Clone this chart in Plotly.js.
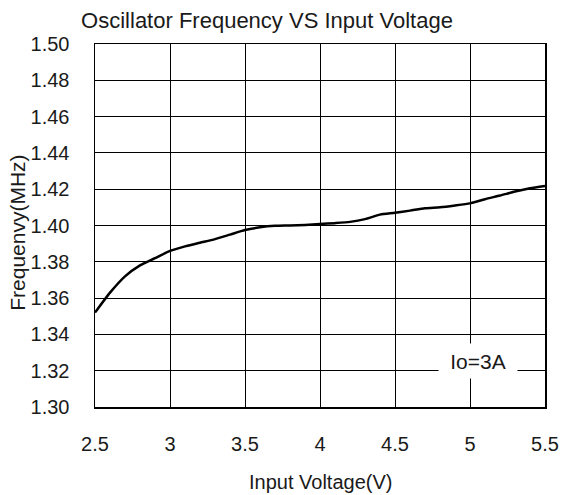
<!DOCTYPE html>
<html>
<head>
<meta charset="utf-8">
<script src="https://cdn.plot.ly/plotly-3.0.1.min.js"></script>
<style>html,body{margin:0;padding:0;background:#fff;}#chart{width:563px;height:495px;}</style>
</head>
<body>
<div id="chart"></div>
<script>
const voltage = [2.5, 2.6, 2.7, 2.8, 2.9, 3.0, 3.1, 3.2, 3.3, 3.4, 3.5, 3.6, 3.7, 3.8, 3.9, 4.0, 4.1, 4.2, 4.3, 4.4, 4.5, 4.6, 4.7, 4.8, 4.9, 5.0, 5.1, 5.2, 5.3, 5.4, 5.5];
const frequency = [1.352, 1.363, 1.372, 1.378, 1.382, 1.386, 1.3885, 1.3905, 1.3925, 1.395, 1.3975, 1.399, 1.3998, 1.4, 1.4003, 1.4008, 1.4013, 1.402, 1.4035, 1.406, 1.407, 1.4082, 1.4095, 1.41, 1.411, 1.4122, 1.4145, 1.4165, 1.4187, 1.4205, 1.4218];
const xTicks = [2.5, 3, 3.5, 4, 4.5, 5, 5.5];
const xTickText = ['2.5', '3', '3.5', '4', '4.5', '5', '5.5'];
const yTicks = [1.30, 1.32, 1.34, 1.36, 1.38, 1.40, 1.42, 1.44, 1.46, 1.48, 1.50];
const yTickText = ['1.30', '1.32', '1.34', '1.36', '1.38', '1.40', '1.42', '1.44', '1.46', '1.48', '1.50'];
const chartTitle = 'Oscillator Frequency VS Input Voltage';
const xTitle = 'Input Voltage(V)';
const yTitle = 'Frequenvy(MHz)';
const noteText = 'Io=3A';

const FONT = 'Liberation Sans, Arial, sans-serif';
const trace = {
  x: voltage, y: frequency, type: 'scatter', mode: 'lines',
  line: {color: '#000', width: 2.5, shape: 'spline', smoothing: 0.6},
  hoverinfo: 'skip', showlegend: false
};
const layout = {
  width: 563, height: 495,
  margin: {l: 95, r: 18, t: 44, b: 88},
  paper_bgcolor: '#fff', plot_bgcolor: '#fff',
  font: {family: FONT, color: '#1a1a1a', size: 20},
  title: {text: chartTitle, x: 267/563, xanchor: 'center', xref: 'container', y: 1 - 20/495, yref: 'container', yanchor: 'middle', font: {family: FONT, size: 22, color: '#1a1a1a'}},
  xaxis: {
    range: [2.5, 5.5], tickvals: xTicks, ticktext: xTickText,
    showgrid: true, gridcolor: '#000', gridwidth: 1,
    showline: true, linecolor: '#000', linewidth: 1.5, mirror: true,
    zeroline: false, ticks: '', ticklabelstandoff: 18,
    tickfont: {family: FONT, size: 20, color: '#1a1a1a'}
  },
  yaxis: {
    range: [1.30, 1.50], tickvals: yTicks, ticktext: yTickText,
    showgrid: true, gridcolor: '#000', gridwidth: 1,
    showline: true, linecolor: '#000', linewidth: 1.5, mirror: true,
    zeroline: false, ticks: '', ticklabelstandoff: 20,
    tickfont: {family: FONT, size: 20, color: '#1a1a1a'}
  },
  annotations: [
    {text: xTitle, xref: 'paper', yref: 'paper', x: 0.5, y: -75/363, xanchor: 'center', yanchor: 'middle', showarrow: false, font: {family: FONT, size: 20, color: '#1a1a1a'}},
    {text: yTitle, xref: 'paper', yref: 'paper', x: -77/450, y: 0.48, xanchor: 'center', yanchor: 'middle', textangle: -90, showarrow: false, font: {family: FONT, size: 21, color: '#1a1a1a'}},
    {text: noteText, xref: 'x', yref: 'y', x: 5.05, y: 1.3255, xanchor: 'center', yanchor: 'middle', showarrow: false, bgcolor: '#fff', width: 76, height: 32, font: {family: FONT, size: 21, color: '#1a1a1a'}}
  ]
};
Plotly.newPlot('chart', [trace], layout, {staticPlot: true, displayModeBar: false});
</script>
</body>
</html>
